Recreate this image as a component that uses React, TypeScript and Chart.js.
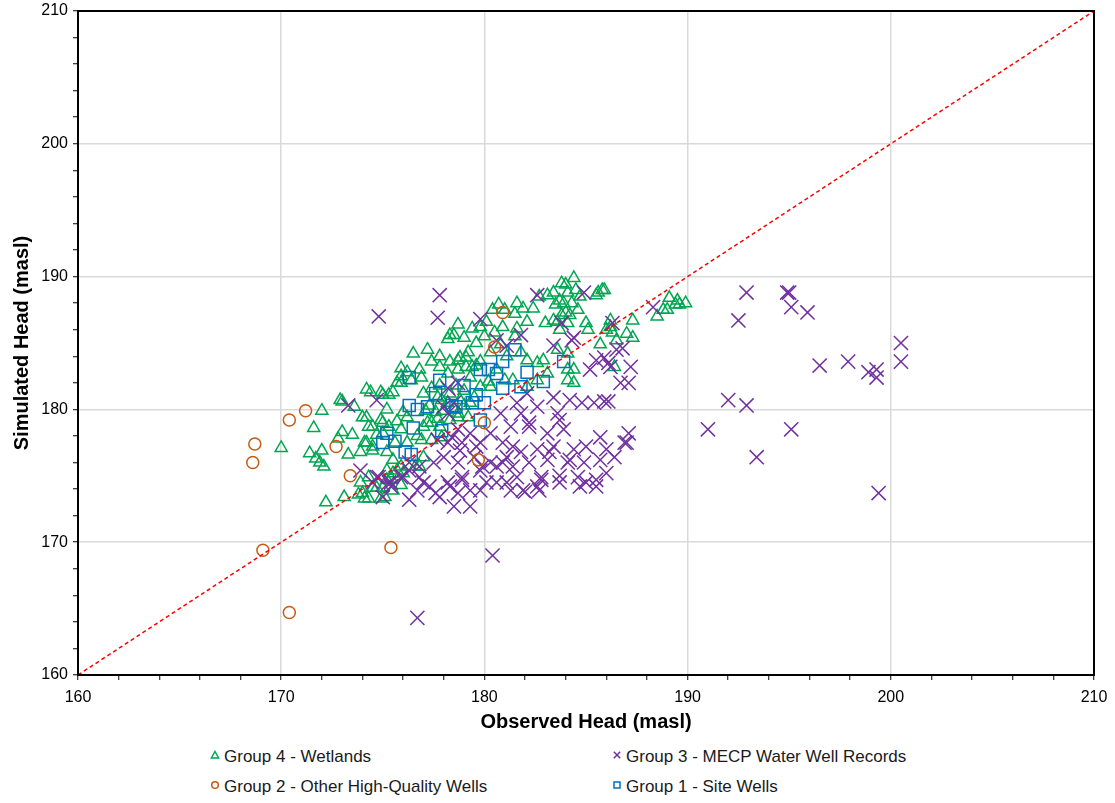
import React, { useEffect, useRef } from "react";
import { Chart, registerables } from "chart.js";

Chart.register(...registerables);

// ---------- axis / labels ----------
const axisMin = 160;
const axisMax = 210;
const minorStep = 2;
const majorStep = 10;
const xTitle = "Observed Head (masl)";
const yTitle = "Simulated Head (masl)";
const oneToOneLine = [
  [160, 160],
  [210, 210],
];

// ---------- series: [observed, simulated] ----------
const group4Wetlands = [
  [170.0, 177.1], [172.0, 179.9], [171.6, 178.6], [171.4, 176.7], [171.7, 176.3], [171.9, 176.0],
  [172.1, 175.7], [172.0, 176.9], [172.8, 177.8], [173.0, 178.3], [173.5, 178.1], [173.3, 176.6],
  [173.0, 180.6], [173.6, 180.2], [172.9, 180.7], [172.2, 173.0], [173.1, 173.4], [173.8, 173.6],
  [174.1, 173.3], [174.9, 173.3], [174.4, 181.3], [175.0, 181.1], [174.0, 179.4], [174.3, 178.7],
  [174.7, 178.1], [174.2, 177.5], [174.5, 176.9], [175.0, 179.0], [173.9, 174.5], [174.3, 174.9],
  [174.7, 174.1], [175.2, 174.7], [175.5, 173.9], [175.9, 174.3], [175.2, 175.4], [175.7, 175.4],
  [174.0, 173.7], [174.3, 173.3], [174.5, 174.1], [175.0, 174.1], [175.5, 175.2], [174.2, 181.5],
  [174.9, 181.3], [175.3, 181.1], [175.7, 182.0], [175.9, 182.5], [174.2, 179.4], [174.5, 178.7],
  [174.9, 179.2], [175.0, 178.2], [174.1, 177.5], [174.5, 177.2], [173.9, 176.8], [175.2, 176.8],
  [175.5, 176.2], [175.9, 175.7], [176.6, 175.7], [175.4, 174.8], [175.1, 173.4], [176.0, 175.2],
  [176.8, 175.7], [177.0, 176.4], [175.6, 177.5], [176.2, 177.5], [176.9, 177.7], [176.2, 179.4],
  [175.9, 178.5], [175.3, 178.7], [175.7, 179.1], [176.0, 179.8], [175.2, 180.0], [175.5, 181.3],
  [175.9, 182.0], [176.4, 182.2], [176.9, 182.4], [176.2, 182.8], [176.8, 183.0], [176.5, 184.2],
  [175.9, 183.1], [177.2, 184.5], [177.8, 184.0], [177.4, 183.6], [177.8, 183.2], [178.3, 183.6],
  [178.3, 185.6], [178.7, 186.4], [179.0, 185.4], [179.4, 186.1], [179.8, 186.2], [180.1, 186.6],
  [180.4, 187.5], [180.7, 187.9], [178.2, 185.3], [178.5, 185.6], [181.0, 187.5], [181.6, 188.0],
  [181.9, 187.6], [182.4, 187.6], [181.5, 187.2], [182.1, 186.6], [181.6, 186.1], [180.9, 186.2],
  [180.5, 185.8], [180.0, 185.5], [179.6, 185.0], [179.2, 184.3], [178.8, 183.9], [179.8, 183.6],
  [180.3, 184.3], [180.8, 184.9], [181.1, 184.0], [181.5, 185.5], [181.8, 184.3], [182.1, 183.7],
  [182.6, 183.5], [182.9, 183.7], [183.6, 184.5], [184.1, 184.2], [184.1, 183.0], [184.4, 182.0],
  [183.4, 186.7], [183.8, 187.1], [183.0, 186.5], [182.7, 188.5], [183.1, 188.6], [183.4, 188.8],
  [183.8, 189.5], [184.4, 189.9], [184.1, 188.8], [184.3, 188.0], [184.6, 187.5], [184.7, 188.5],
  [183.9, 188.0], [184.0, 187.3], [184.1, 186.5], [183.7, 186.0], [185.0, 186.5], [185.6, 188.8],
  [185.9, 189.0], [185.1, 186.0], [185.7, 184.9], [186.2, 186.2], [186.4, 183.2], [187.0, 185.7],
  [187.3, 186.7], [186.2, 186.7], [186.0, 186.0], [186.3, 185.8], [186.5, 185.2], [187.3, 185.4],
  [188.5, 187.0], [189.1, 188.4], [188.8, 187.5], [189.0, 187.5], [189.4, 187.9], [189.6, 187.9],
  [189.9, 188.0], [189.5, 188.2], [185.5, 188.6], [178.7, 183.0], [178.2, 182.7], [179.1, 183.2],
  [179.6, 183.3], [180.3, 181.7], [180.6, 183.0], [181.0, 182.2], [181.4, 182.2], [182.1, 181.7],
  [182.6, 182.2], [183.1, 182.7], [184.1, 182.2], [184.4, 183.0], [177.7, 180.9], [178.2, 180.5],
  [178.7, 179.7], [179.2, 179.4], [177.4, 179.0], [177.0, 178.7], [176.7, 178.0], [177.4, 177.7],
  [177.8, 178.7], [178.7, 179.4], [179.3, 180.5], [177.9, 180.7], [178.3, 181.2], [178.5, 180.0],
  [179.0, 181.4], [179.3, 182.4], [179.8, 181.7], [180.2, 182.1], [178.7, 183.7], [179.1, 183.9],
  [179.4, 183.2], [177.2, 179.0], [177.7, 179.3], [177.9, 177.9], [177.0, 181.2], [177.4, 181.6],
  [185.8, 189.0], [177.3, 180.3], [178.0, 179.9], [178.8, 180.7], [177.1, 179.9], [177.6, 179.8],
  [178.3, 179.2], [179.0, 180.3], [179.5, 180.9], [178.6, 181.8], [177.8, 181.8], [183.5, 187.9],
  [183.7, 188.2], [184.2, 187.1], [183.6, 186.6], [184.5, 189.0], [184.0, 189.4],
];

const group3MecpWells = [
  [174.8, 187.0], [177.8, 188.6], [177.7, 186.9], [179.8, 186.8], [173.3, 180.3], [174.7, 180.7],
  [176.7, 164.3], [180.4, 169.0], [192.9, 188.8], [194.9, 188.8], [195.0, 188.8], [195.1, 187.7],
  [195.9, 187.3], [192.5, 186.7], [196.5, 183.3], [197.9, 183.6], [198.9, 182.8], [199.3, 183.0],
  [199.3, 182.4], [200.5, 185.0], [200.5, 183.6], [192.0, 180.7], [192.9, 180.3], [191.0, 178.5],
  [195.1, 178.5], [193.4, 176.4], [199.4, 173.7], [188.3, 187.7], [186.3, 186.5], [185.5, 183.7],
  [185.9, 183.9], [186.8, 184.6], [186.5, 184.5], [186.1, 183.5], [187.2, 183.2], [187.1, 182.0],
  [185.4, 180.5], [185.9, 180.6], [182.6, 188.6], [184.9, 188.8], [181.8, 185.6], [183.4, 184.8],
  [184.3, 185.2], [183.8, 186.5], [185.2, 183.0], [184.4, 185.4], [186.2, 183.2], [186.7, 182.0],
  [180.6, 185.2], [184.2, 180.7], [184.8, 180.5], [186.1, 180.6], [183.6, 179.7], [181.8, 179.7],
  [182.2, 178.7], [183.1, 178.2], [183.9, 178.5], [187.1, 178.2], [187.0, 177.5], [186.0, 177.0],
  [185.0, 177.2], [184.4, 177.0], [183.4, 177.2], [182.6, 177.0], [181.8, 176.8], [180.9, 177.5],
  [181.1, 176.4], [180.3, 176.0], [179.8, 175.4], [180.6, 175.7], [181.4, 175.7], [182.2, 176.0],
  [183.1, 176.2], [184.1, 176.0], [184.9, 176.0], [185.7, 176.2], [186.4, 176.4], [184.6, 174.9],
  [185.0, 174.5], [185.5, 174.7], [186.0, 175.2], [183.7, 174.5], [182.6, 174.2], [181.9, 173.9],
  [182.8, 174.9], [178.9, 174.9], [178.2, 174.5], [177.3, 174.2], [176.8, 174.9], [176.7, 173.9],
  [177.8, 173.4], [178.7, 173.7], [179.3, 173.9], [175.4, 174.5], [175.9, 174.9], [176.3, 175.4],
  [178.7, 176.0], [179.5, 176.4], [178.0, 176.4], [177.5, 176.0], [178.9, 177.5], [178.4, 177.9],
  [179.8, 177.5], [180.3, 178.2], [181.3, 178.7], [180.8, 179.7], [181.6, 180.5], [182.1, 181.2],
  [182.6, 180.2], [183.4, 180.9], [181.1, 174.5], [180.1, 174.5], [186.9, 177.5], [183.7, 179.2],
  [182.2, 179.0], [181.4, 177.2], [185.7, 177.9], [185.5, 174.2], [184.7, 174.2], [182.8, 174.7],
  [182.0, 173.8], [182.7, 173.9], [183.7, 175.0], [183.2, 176.8], [184.2, 176.2], [174.7, 174.9],
  [175.4, 174.2], [175.0, 173.4], [176.3, 176.0], [176.8, 175.7], [177.0, 174.5], [177.6, 173.7],
  [178.3, 174.2], [178.9, 174.7], [178.5, 172.7], [179.3, 172.7], [179.8, 173.9], [180.6, 174.5],
  [181.3, 173.9], [181.6, 174.9], [178.2, 177.5], [178.8, 176.9], [179.6, 177.2], [179.3, 178.2],
  [178.7, 178.5], [180.9, 176.0], [179.9, 175.7], [178.2, 179.7], [178.5, 180.5], [178.2, 181.6],
  [178.0, 180.2], [178.7, 182.0], [177.7, 177.7], [173.9, 175.4], [174.8, 174.9], [174.5, 174.5],
  [175.3, 174.5], [176.0, 174.9], [176.3, 173.2], [181.1, 184.8],
];

const group2OtherWells = [
  [168.7, 177.4], [168.6, 176.0], [170.4, 179.2], [171.2, 179.9], [169.1, 169.4], [170.4, 164.7],
  [172.7, 177.2], [173.4, 175.0], [175.4, 169.6], [179.7, 176.2], [180.0, 179.0], [180.5, 184.7],
  [180.9, 187.3],
];

const group1SiteWells = [
  [176.3, 182.4], [177.8, 182.2], [177.6, 181.2], [176.3, 180.3], [176.7, 180.0], [177.2, 180.2],
  [176.5, 178.6], [175.2, 178.2], [175.0, 177.5], [175.6, 177.6], [176.1, 176.8], [176.4, 176.6],
  [177.9, 178.4], [178.6, 180.2], [179.0, 181.8], [179.6, 181.1], [179.8, 183.0], [180.2, 183.0],
  [180.6, 182.7], [180.9, 183.6], [181.5, 184.5], [182.1, 182.8], [181.8, 181.7], [182.9, 182.1],
  [183.9, 183.6], [179.8, 179.2], [180.0, 180.5], [179.4, 180.5], [180.9, 181.6], [178.4, 180.3],
];

const seriesNames = [
  "Group 4 - Wetlands",
  "Group 3 - MECP Water Well Records",
  "Group 2 - Other High-Quality Wells",
  "Group 1 - Site Wells",
];

const COLORS = {
  g4: "#00A651",
  g3: "#7030A0",
  g2: "#C55A11",
  g1: "#0070C0",
  line: "#FF0000",
};

const toXY = (arr: number[][]) => arr.map(([x, y]) => ({ x, y }));

const FONT = '"Liberation Sans", Arial, Helvetica, sans-serif';

const frameBox = {
  id: "frameBox",
  afterDraw(chart: any) {
    const { ctx, chartArea } = chart;
    ctx.save();
    ctx.strokeStyle = "#000";
    ctx.lineWidth = 2;
    ctx.strokeRect(chartArea.left, chartArea.top, chartArea.right - chartArea.left, chartArea.bottom - chartArea.top);
    ctx.restore();
  },
};

function LegendMarker({ kind, color }: { kind: string; color: string }) {
  const s = 10;
  let shape: any = null;
  if (kind === "triangle") shape = <polygon points="5,1.5 8.6,8 1.4,8" fill="none" stroke={color} strokeWidth={1.5} />;
  if (kind === "circle") shape = <circle cx={5} cy={5} r={3.3} fill="none" stroke={color} strokeWidth={1.5} />;
  if (kind === "cross")
    shape = (
      <g stroke={color} strokeWidth={1.5}>
        <line x1={1.8} y1={1.8} x2={8.2} y2={8.2} />
        <line x1={8.2} y1={1.8} x2={1.8} y2={8.2} />
      </g>
    );
  if (kind === "square") shape = <rect x={2} y={2} width={6} height={6} fill="none" stroke={color} strokeWidth={1.5} />;
  return (
    <svg width={s} height={s} style={{ position: "absolute", left: -5, top: 3 }}>
      {shape}
    </svg>
  );
}

export default function App() {
  const canvasRef = useRef<HTMLCanvasElement | null>(null);

  useEffect(() => {
    if (!canvasRef.current) return;
    const gridColor = (ctx: any) =>
      ctx.tick && Math.round(ctx.tick.value) % majorStep === 0 ? "#D9D9D9" : "rgba(0,0,0,0)";
    const tickCb = (v: any) => (Math.round(Number(v)) % majorStep === 0 ? String(v) : "");

    const pointDs = (label: string, data: number[][], style: string, color: string, radius: number) => ({
      type: "scatter" as const,
      label,
      data: toXY(data),
      pointStyle: style,
      pointRadius: radius,
      pointHoverRadius: radius,
      pointBorderWidth: 1.5,
      pointBorderColor: color,
      pointBackgroundColor: "rgba(0,0,0,0)",
      borderColor: color,
      backgroundColor: "rgba(0,0,0,0)",
      showLine: false,
    });

    const zeroPad = (s: any) => {
      s.paddingTop = 0;
      s.paddingBottom = 0;
      s.paddingLeft = 0;
      s.paddingRight = 0;
    };

    const chart = new Chart(canvasRef.current, {
      type: "scatter",
      data: {
        datasets: [
          {
            type: "scatter" as const,
            label: "1:1",
            data: toXY(oneToOneLine),
            showLine: true,
            borderColor: COLORS.line,
            borderWidth: 1.5,
            borderDash: [4, 3],
            pointRadius: 0,
            fill: false,
          },
          pointDs(seriesNames[2], group2OtherWells, "circle", COLORS.g2, 6),
          pointDs(seriesNames[3], group1SiteWells, "rect", COLORS.g1, 8.5),
          pointDs(seriesNames[1], group3MecpWells, "crossRot", COLORS.g3, 10),
          pointDs(seriesNames[0], group4Wetlands, "triangle", COLORS.g4, 7),
        ] as any,
      },
      options: {
        animation: false,
        responsive: false,
        events: [],
        layout: { autoPadding: false, padding: { left: 0, top: 11, right: 21, bottom: 0 } },
        plugins: { legend: { display: false }, tooltip: { enabled: false } },
        scales: {
          x: {
            type: "linear",
            min: axisMin,
            max: axisMax,
            position: "bottom",
            ticks: {
              stepSize: minorStep,
              autoSkip: false,
              maxRotation: 0,
              padding: 8,
              color: "#000",
              font: { size: 16, family: FONT },
              callback: tickCb,
            },
            grid: { color: gridColor, lineWidth: 1.5, tickColor: "#000", tickWidth: 1, tickLength: 5, drawTicks: true },
            border: { display: true, color: "#000", width: 2 },
            title: {
              display: true,
              text: xTitle,
              color: "#000",
              font: { size: 20, weight: "bold", family: FONT },
              padding: { top: 0, bottom: 9 },
            },
            afterFit: (s: any) => {
              s.height = 68;
              zeroPad(s);
            },
          },
          y: {
            type: "linear",
            min: axisMin,
            max: axisMax,
            position: "left",
            ticks: {
              stepSize: minorStep,
              autoSkip: false,
              padding: 5,
              color: "#000",
              font: { size: 16, family: FONT },
              callback: tickCb,
            },
            grid: { color: gridColor, lineWidth: 1.5, tickColor: "#000", tickWidth: 1, tickLength: 5, drawTicks: true },
            border: { display: true, color: "#000", width: 2 },
            title: {
              display: true,
              text: yTitle,
              color: "#000",
              font: { size: 20, weight: "bold", family: FONT },
              padding: { top: 10, bottom: 0 },
            },
            afterFit: (s: any) => {
              s.width = 78;
              zeroPad(s);
            },
          },
        },
      } as any,
      plugins: [frameBox],
    });
    return () => chart.destroy();
  }, []);

  const legendItems = [
    { name: seriesNames[0], kind: "triangle", color: COLORS.g4, left: 224, top: 747 },
    { name: seriesNames[1], kind: "cross", color: COLORS.g3, left: 626, top: 747 },
    { name: seriesNames[2], kind: "circle", color: COLORS.g2, left: 224, top: 777 },
    { name: seriesNames[3], kind: "square", color: COLORS.g1, left: 626, top: 777 },
  ];

  return (
    <div style={{ position: "absolute", left: 0, top: 0, width: 1115, height: 795, fontFamily: FONT }}>
      <canvas ref={canvasRef} width={1115} height={743} style={{ display: "block" }} />
      {legendItems.map((it) => (
        <div
          key={it.name}
          style={{
            position: "absolute",
            left: it.left,
            top: it.top,
            fontSize: 17,
            lineHeight: "20px",
            color: "#1a1a1a",
            whiteSpace: "nowrap",
          }}
        >
          <span style={{ position: "absolute", left: -9, top: 0 }}>
            <LegendMarker kind={it.kind} color={it.color} />
          </span>
          {it.name}
        </div>
      ))}
    </div>
  );
}
